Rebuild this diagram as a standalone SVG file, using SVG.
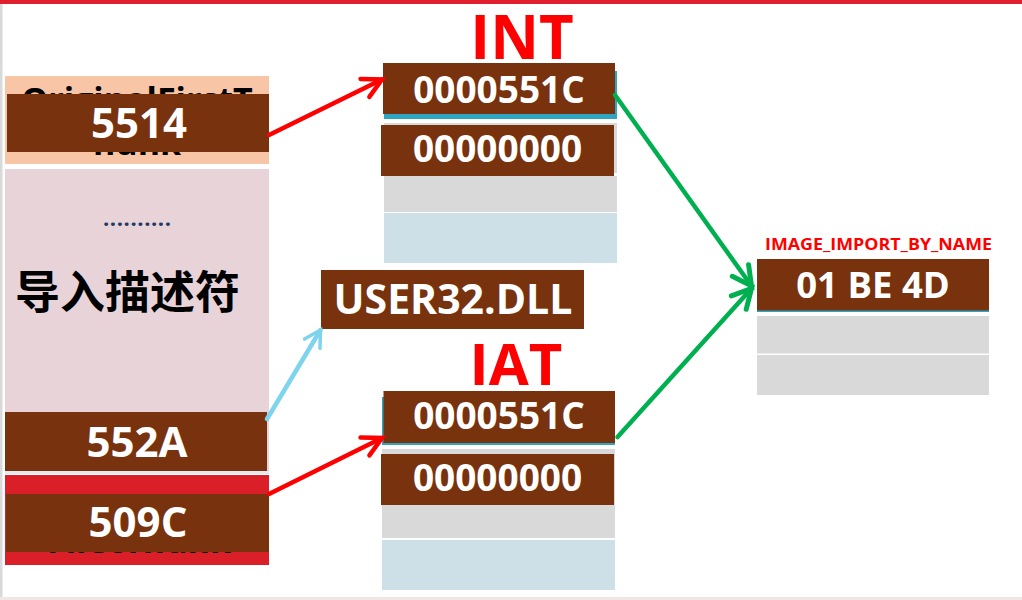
<svg xmlns="http://www.w3.org/2000/svg" width="1022" height="600" viewBox="0 0 1022 600">
<style>
.br{fill:#78320D}
.gy{fill:#D9D9D9}
.lb{fill:#CDE0E8}
.tl{fill:#2FA5C2}
.wt{font-family:"Open Sans","Liberation Sans",sans-serif;font-weight:700;fill:#FFFFFF;text-anchor:middle}
.bk{font-family:"Open Sans","Liberation Sans",sans-serif;font-weight:700;fill:#000000;text-anchor:middle;font-size:34px}
.rd{font-family:"Open Sans","Liberation Sans",sans-serif;font-weight:700;fill:#FF0000;text-anchor:middle}
.cn{fill:none;stroke-width:4.5;stroke-linecap:round}
</style>
<defs>
<marker id="mr" viewBox="-24 -14 30 28" markerWidth="30" markerHeight="28" refX="0" refY="0" orient="auto" markerUnits="userSpaceOnUse"><path d="M-19,-10 L0,0 L-19,10" fill="none" stroke="#FF0000" stroke-width="4.5" stroke-linecap="round" stroke-linejoin="miter"/></marker>
<marker id="mg" viewBox="-24 -14 30 28" markerWidth="30" markerHeight="28" refX="0" refY="0" orient="auto" markerUnits="userSpaceOnUse"><path d="M-19,-10 L0,0 L-19,10" fill="none" stroke="#00B050" stroke-width="5" stroke-linecap="round"/></marker>
<marker id="mc" viewBox="-24 -14 30 28" markerWidth="30" markerHeight="28" refX="0" refY="0" orient="auto" markerUnits="userSpaceOnUse"><path d="M-16,-9 L0,0 L-16,9" fill="none" stroke="#7DD4EC" stroke-width="3.5" stroke-linecap="round"/></marker>
</defs>
<rect x="0" y="0" width="1022" height="600" fill="#FFFFFF"/>
<rect x="0" y="0" width="1022" height="4" fill="#E0202E"/>
<rect x="0" y="4" width="2.5" height="596" fill="#D9D9D9"/>
<rect x="0" y="597" width="1022" height="3" fill="#F2E6E4"/>

<g id="original-first-thunk">
<rect x="5" y="76" width="264" height="88" fill="#F8C5A6"/>
<text class="bk" x="137" y="112">OriginalFirstT</text>
<text class="bk" x="137" y="155">hunk</text>
<rect class="br" x="7" y="94" width="262" height="58"/>
<text class="wt" x="139" y="138" font-size="42">5514</text>
</g>

<g id="import-descriptor">
<rect x="5" y="169" width="264" height="305" fill="#E8D3D9"/>
<text x="137" y="226" font-family="Open Sans, Liberation Sans, sans-serif" font-size="22" font-weight="700" fill="#1F3864" text-anchor="middle" textLength="68">..........</text>
<text x="15" y="309" font-family="'Noto Sans CJK SC','Noto Sans',sans-serif" font-weight="700" font-size="45" fill="#000000" textLength="225">导入描述符</text>
</g>

<g id="name-rva">
<rect x="5" y="471" width="264" height="3" fill="#E2EAF0"/>
<rect class="br" x="5" y="412" width="262" height="59"/>
<text class="wt" x="137" y="457" font-size="42">552A</text>
</g>

<g id="first-thunk">
<rect x="5" y="475" width="264" height="90" fill="#DA1F28"/>
<text class="bk" x="139" y="553">FirstThunk</text>
<rect class="br" x="6" y="494" width="263" height="58"/>
<text class="wt" x="138" y="537" font-size="42">509C</text>
</g>

<g id="int-title"><text class="rd" x="522" y="59" font-size="60">INT</text></g>

<g id="int-table">
<rect class="tl" x="384" y="71" width="233" height="48"/>
<rect class="br" x="383" y="63" width="232" height="51"/>
<text class="wt" x="499" y="103" font-size="37">0000551C</text>
<rect class="gy" x="384" y="123" width="233" height="50"/>
<rect class="br" x="381" y="125" width="233" height="51"/>
<text class="wt" x="497.5" y="162" font-size="37">00000000</text>
<rect class="gy" x="384" y="176" width="233" height="36"/>
<rect class="lb" x="384" y="213" width="233" height="50"/>
</g>

<g id="user32">
<rect class="br" x="321" y="270" width="263" height="59"/>
<text class="wt" x="453" y="314" font-size="41">USER32.DLL</text>
</g>

<g id="iat-title"><text class="rd" x="516" y="385" font-size="58">IAT</text></g>

<g id="iat-table">
<rect class="tl" x="382" y="397" width="233" height="48"/>
<rect class="br" x="383.5" y="391" width="231.5" height="52"/>
<text class="wt" x="499" y="429" font-size="37">0000551C</text>
<rect class="gy" x="382" y="449" width="233" height="56"/>
<rect class="br" x="381" y="454" width="233" height="51"/>
<text class="wt" x="497.5" y="491" font-size="37">00000000</text>
<rect class="gy" x="382" y="505" width="233" height="33"/>
<rect class="lb" x="382" y="540" width="233" height="50"/>
</g>

<g id="import-by-name">
<text class="rd" x="878.5" y="250" font-size="16" textLength="227" lengthAdjust="spacingAndGlyphs">IMAGE_IMPORT_BY_NAME</text>
<rect class="tl" x="757" y="259" width="232" height="53"/>
<rect class="br" x="757" y="259" width="232" height="51.5"/>
<text class="wt" x="873" y="298" font-size="36.5">01 BE 4D</text>
<rect class="gy" x="757" y="316" width="232" height="37.5"/>
<rect class="gy" x="757" y="355" width="232" height="40"/>
</g>

<g id="connectors">
<line class="cn" x1="269" y1="135" x2="382" y2="79.5" stroke="#FF0000" marker-end="url(#mr)"/>
<line class="cn" x1="269" y1="494" x2="382" y2="438" stroke="#FF0000" marker-end="url(#mr)"/>
<line class="cn" x1="267" y1="419" x2="320.5" y2="330" stroke="#7DD4EC" stroke-width="3.5" marker-end="url(#mc)"/>
<line class="cn" x1="615" y1="95" x2="751.5" y2="286" stroke="#00B050" stroke-width="5" marker-end="url(#mg)"/>
<line class="cn" x1="617.5" y1="437" x2="751.5" y2="288.5" stroke="#00B050" stroke-width="5" marker-end="url(#mg)"/>
</g>
</svg>
